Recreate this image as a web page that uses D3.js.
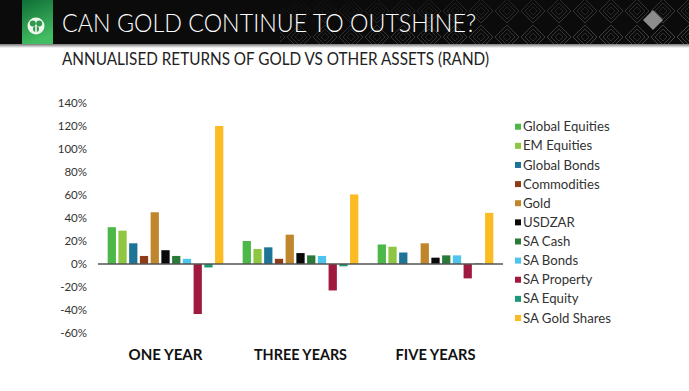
<!DOCTYPE html>
<html><head><meta charset="utf-8">
<script src="https://cdn.jsdelivr.net/npm/d3@7"></script>
<style>html,body{margin:0;padding:0;background:#fff;}svg{display:block;}</style>
</head><body>
<svg id="chart" width="689" height="391"></svg>
<script>
const title = "CAN GOLD CONTINUE TO OUTSHINE?";
const subtitle = "ANNUALISED RETURNS OF GOLD VS OTHER ASSETS (RAND)";
const periods = ["ONE YEAR", "THREE YEARS", "FIVE YEARS"];
const seriesNames = ["Global Equities","EM Equities","Global Bonds","Commodities","Gold","USDZAR","SA Cash","SA Bonds","SA Property","SA Equity","SA Gold Shares"];
const seriesColors = ["#4cb848","#8dc641","#1d7496","#8e3b17","#c0862c","#0a0a0a","#2a7a3a","#4cc4ec","#a01a40","#1c9a78","#fbbb22"];
const globalEquities = [32, 20, 17];
const emEquities     = [29, 13, 15];
const globalBonds    = [18, 14.5, 10];
const commodities    = [7, 4.5, 0];
const gold           = [45, 25.5, 18];
const usdzar         = [12, 9.5, 5.5];
const saCash         = [7, 7.5, 7.5];
const saBonds        = [4.5, 7, 7.5];
const saProperty     = [-43.5, -23, -12.5];
const saEquity       = [-3, -2, 0.5];
const saGoldShares   = [120, 60.5, 44.5];
const yTicks = [-60,-40,-20,0,20,40,60,80,100,120,140];

const seriesValues = [globalEquities, emEquities, globalBonds, commodities, gold, usdzar, saCash, saBonds, saProperty, saEquity, saGoldShares];

const svg = d3.select("#chart");
const defs = svg.append("defs");

// ---------- header ----------
const pat = defs.append("pattern").attr("id","dia").attr("patternUnits","userSpaceOnUse")
  .attr("width",26).attr("height",26).attr("x",0).attr("y",-2);
[12,8,4].forEach((r,i)=>{
  pat.append("path").attr("d",`M13,${13-r}L${13+r},13L13,${13+r}L${13-r},13Z`)
    .attr("fill","none").attr("stroke","#6a6a6a").attr("stroke-width",0.8).attr("opacity",0.85-i*0.15);
});
const fade = defs.append("linearGradient").attr("id","fade").attr("x1",0).attr("x2",1).attr("y1",0).attr("y2",1);
fade.append("stop").attr("offset","0%").attr("stop-color","#fff").attr("stop-opacity",0);
fade.append("stop").attr("offset","45%").attr("stop-color","#fff").attr("stop-opacity",0.6);
fade.append("stop").attr("offset","100%").attr("stop-color","#fff").attr("stop-opacity",1);
const mask = defs.append("mask").attr("id","fadeMask");
mask.append("rect").attr("x",280).attr("y",0).attr("width",409).attr("height",44).attr("fill","url(#fade)");

svg.append("rect").attr("x",0).attr("y",0).attr("width",689).attr("height",44).attr("fill","#0b0b0b");
svg.append("rect").attr("x",280).attr("y",0).attr("width",409).attr("height",44)
  .attr("fill","url(#dia)").attr("mask","url(#fadeMask)");
const edge = defs.append("linearGradient").attr("id","edge").attr("x1",0).attr("x2",0).attr("y1",0).attr("y2",1);
edge.append("stop").attr("offset","0%").attr("stop-color","#777");
edge.append("stop").attr("offset","100%").attr("stop-color","#fff");
svg.append("rect").attr("x",0).attr("y",44).attr("width",689).attr("height",4).attr("fill","url(#edge)");

const gg = defs.append("linearGradient").attr("id","green").attr("x1",0).attr("x2",0.3).attr("y1",0).attr("y2",1);
gg.append("stop").attr("offset","0%").attr("stop-color","#0e6e36");
gg.append("stop").attr("offset","100%").attr("stop-color","#43bd62");
svg.append("rect").attr("x",22).attr("y",0).attr("width",31).attr("height",44).attr("fill","url(#green)");
const logo = svg.append("g").attr("transform","translate(36,26)");
logo.append("circle").attr("r",8.5).attr("fill","#eef6ee");
[[-3.2,-2.5],[3.2,-2.5],[0,3]].forEach(p=>{
  logo.append("circle").attr("cx",p[0]).attr("cy",p[1]).attr("r",3).attr("fill","#2f9a4e");
});
logo.append("rect").attr("x",-0.8).attr("y",-1).attr("width",1.6).attr("height",7).attr("fill","#eef6ee");

svg.append("path").attr("d","M653,10L663,20L653,30L643,20Z").attr("fill","#8c8c8c");

svg.append("text").attr("x",62).attr("y",32).attr("fill","#fff")
  .attr("font-family","Lato, 'Open Sans', sans-serif").attr("font-weight",300).attr("font-size",25)
  .attr("textLength",414).attr("lengthAdjust","spacingAndGlyphs").text(title);
svg.append("text").attr("x",62).attr("y",64.5).attr("fill","#222")
  .attr("font-family","Lato, 'Open Sans', sans-serif").attr("font-weight",400).attr("font-size",16.5)
  .attr("textLength",427).attr("lengthAdjust","spacingAndGlyphs").text(subtitle);

// ---------- chart ----------
const x0 = d3.scaleBand().domain(periods).range([98, 503]).paddingInner(0).paddingOuter(0);
const x1 = d3.scaleBand().domain(seriesNames).range([0, x0.bandwidth()]).paddingInner(0.23).paddingOuter(0.9);
const y = d3.scaleLinear().domain([-60, 140]).range([333, 103]);

const yAxis = d3.axisLeft(y).tickValues(yTicks).tickFormat(d => d + "%").tickSize(0).tickPadding(0);
const ya = svg.append("g").attr("transform","translate(87,0)").call(yAxis);
ya.select(".domain").remove();
ya.selectAll("text").attr("font-family","Lato, 'Open Sans', sans-serif").attr("font-size",11.5).attr("fill","#333");

const groups = svg.append("g").selectAll("g").data(periods).join("g")
  .attr("transform", d => `translate(${x0(d)},0)`);
groups.each(function(p, pi){
  d3.select(this).selectAll("rect").data(seriesNames.map((s,si)=>({s, si, v: seriesValues[si][pi]})))
    .join("rect")
    .attr("x", d => x1(d.s))
    .attr("width", x1.bandwidth())
    .attr("y", d => y(Math.max(0, d.v)))
    .attr("height", d => Math.abs(y(d.v) - y(0)))
    .attr("fill", d => seriesColors[d.si]);
});

svg.append("line").attr("x1",98).attr("x2",503).attr("y1",y(0)).attr("y2",y(0))
  .attr("stroke","#555").attr("stroke-width",1.3);

const xAxis = d3.axisBottom(x0).tickSize(0).tickPadding(0);
const xa = svg.append("g").attr("transform","translate(0,360)").call(xAxis);
xa.select(".domain").remove();
const catW = {"ONE YEAR":74, "THREE YEARS":93, "FIVE YEARS":80};
xa.selectAll("text").attr("dy",0).attr("font-family","Lato, 'Open Sans', sans-serif")
  .attr("font-weight",700).attr("font-size",16).attr("fill","#111")
  .attr("textLength", d => catW[d]).attr("lengthAdjust","spacingAndGlyphs");

// ---------- legend ----------
const legend = svg.append("g").selectAll("g").data(seriesNames).join("g")
  .attr("transform",(d,i)=>`translate(515,${126.7 + i*19.13})`);
legend.append("rect").attr("x",0).attr("y",-3).attr("width",6).attr("height",6)
  .attr("fill",(d,i)=>seriesColors[i]);
legend.append("text").attr("x",8).attr("y",0).attr("dy","0.35em")
  .attr("font-family","Lato, 'Open Sans', sans-serif").attr("font-size",13.2).attr("fill","#333")
  .text(d=>d);
</script>
</body></html>
